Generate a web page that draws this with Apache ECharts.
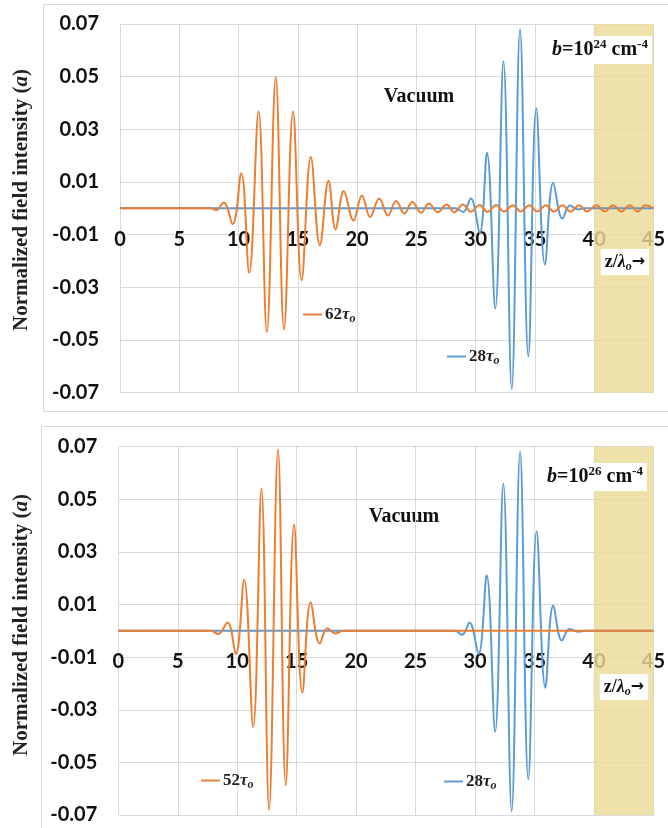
<!DOCTYPE html>
<html><head><meta charset="utf-8">
<script src="https://cdn.jsdelivr.net/npm/echarts@6/dist/echarts.min.js"></script>
<style>html,body{margin:0;padding:0;background:#fff}#c{width:668px;height:828px}</style>
</head><body><div id="c"></div>
<script>
// ---- axis settings ----
const xMin = 0, xMax = 45, xStep = 5;
const yMin = -0.07, yMax = 0.07, yStep = 0.02;
const shadeFrom = 40, shadeTo = 45;

// ---- top panel: b = 10^24 cm^-4 ----
const topOrangeName = '62τo';
const topOrangeX = [0, 7.7, 8.1, 8.75, 9.5, 10.23, 10.9, 11.69, 12.39, 13.14, 13.84, 14.6, 15.32, 16.1, 16.86, 17.59, 18.18, 18.88, 19.7, 20.41, 21.1, 21.87, 22.6, 23.3, 24.0, 24.66, 25.4, 26.06, 26.8, 27.55, 28.2, 28.94, 29.6, 30.34, 31.0, 31.74, 32.4, 33.14, 33.8, 34.54, 35.2, 35.93, 36.6, 37.33, 38.0, 38.73, 39.4, 40.2, 40.9, 41.6, 42.3, 43.0, 43.7, 44.3, 45];
const topOrangeY = [0, 0, -0.0007, 0.0022, -0.006, 0.0133, -0.0245, 0.0368, -0.047, 0.0499, -0.046, 0.0368, -0.0273, 0.0195, -0.014, 0.0105, -0.008, 0.0066, -0.0046, 0.0049, -0.0033, 0.0037, -0.0027, 0.0028, -0.002, 0.0024, -0.0017, 0.0018, -0.0015, 0.0015, -0.0015, 0.0015, -0.0013, 0.0013, -0.0013, 0.0013, -0.0012, 0.0012, -0.0012, 0.0012, -0.0012, 0.0012, -0.0012, 0.0012, -0.0012, 0.0012, -0.0012, 0.0012, -0.0012, 0.0012, -0.0012, 0.0012, -0.0012, 0.0012, 0];

const topBlueName = '28τo';
const topBlueX = [0, 28.3, 28.94, 29.59, 30.34, 30.96, 31.66, 32.35, 33.05, 33.75, 34.45, 35.12, 35.85, 36.55, 37.33, 37.95, 38.6, 39.2, 45];
const topBlueY = [0, 0, -0.0014, 0.0037, -0.0094, 0.0211, -0.038, 0.0559, -0.0685, 0.068, -0.0562, 0.038, -0.0213, 0.0097, -0.0039, 0.0011, -0.0004, 0, 0];

// ---- bottom panel: b = 10^26 cm^-4 ----
const botOrangeName = '52τo';
const botOrangeX = [0, 7.8, 8.4, 9.18, 9.88, 10.58, 11.34, 12.04, 12.68, 13.43, 14.08, 14.78, 15.48, 16.18, 16.94, 17.58, 18.28, 18.9, 45];
const botOrangeY = [0, 0, -0.0012, 0.0032, -0.0088, 0.0194, -0.0366, 0.0541, -0.068, 0.069, -0.0587, 0.0404, -0.0235, 0.0109, -0.0048, 0.001, -0.001, 0, 0];

const botBlueName = '28τo';
const botBlueX = [0, 28.3, 28.92, 29.53, 30.29, 30.98, 31.69, 32.38, 33.08, 33.79, 34.48, 35.18, 35.91, 36.58, 37.31, 37.93, 38.66, 39.3, 45];
const botBlueY = [0, 0, -0.0015, 0.0032, -0.0088, 0.0211, -0.0384, 0.056, -0.0686, 0.0681, -0.0565, 0.0379, -0.0216, 0.0096, -0.0037, 0.0007, -0.0003, 0, 0];

const ORANGE = '#ED7D31', BLUE = '#5B9BD5', GRID = '#d9d9d9';
const SERIF = '"Liberation Serif", "Times New Roman", serif';
const SANS = 'Lato, "Open Sans", sans-serif';

const grids = [
  { left: 120, top: 24, width: 536.5, height: 368.7 },
  { left: 118.3, top: 446.7, width: 536, height: 368.3 }
];

function zip(xs, ys) { return xs.map((x, i) => [x, ys[i]]); }

function xAxisFor(gi) {
  // labels sit just below the zero line (axis itself kept at the bottom edge)
  const labelMargin = -grids[gi].height * (0 - yMin) / (yMax - yMin) + 21;
  return {
    type: 'value', gridIndex: gi, min: xMin, max: xMax, interval: xStep,
    axisLine: { show: false, onZero: false },
    axisTick: { show: false },
    axisLabel: { fontFamily: SANS, fontWeight: 'bold', fontSize: 20, color: '#111', margin: labelMargin },
    splitLine: { show: true, lineStyle: { color: GRID, width: 1 } }
  };
}
function yAxisFor(gi) {
  return {
    type: 'value', gridIndex: gi, min: yMin, max: yMax, interval: yStep,
    axisLine: { show: false }, axisTick: { show: false },
    axisLabel: { fontFamily: SANS, fontWeight: 'bold', fontSize: 20, color: '#111', margin: 21,
      formatter: v => v.toFixed(2) },
    splitLine: { show: true, lineStyle: { color: GRID, width: 1 } }
  };
}
function lineSeries(name, gi, xs, ys, color) {
  return {
    type: 'line', name: name, xAxisIndex: gi, yAxisIndex: gi,
    data: zip(xs, ys), symbol: 'none', smooth: 0.4, z: 3,
    lineStyle: { color: color, width: 2 }, itemStyle: { color: color },
    silent: true
  };
}
function shadeSeries(gi) {
  return {
    type: 'line', name: 'shade' + gi, xAxisIndex: gi, yAxisIndex: gi, data: [], z: 1, silent: true,
    markArea: { silent: true, itemStyle: { color: 'rgba(234,218,151,0.82)' },
      data: [[{ xAxis: shadeFrom }, { xAxis: shadeTo }]] }
  };
}

const legRich = {
  n: { fontFamily: SERIF, fontWeight: 'bold', fontSize: 17, color: '#222', lineHeight: 20 },
  t: { fontFamily: SERIF, fontWeight: 'bold', fontStyle: 'italic', fontSize: 17, color: '#222', lineHeight: 20 },
  s: { fontFamily: SERIF, fontWeight: 'bold', fontStyle: 'italic', fontSize: 12, color: '#222', verticalAlign: 'bottom', lineHeight: 16 }
};
function legendFor(name, left, cy) {
  return {
    data: [name], left: left, top: cy - 10, padding: 0, itemWidth: 19, itemHeight: 14, itemGap: 4,
    selectedMode: false,
    icon: 'path://M0,0 L20,0 L20,2 L0,2 Z',
    formatter: n => '{n|' + n.replace('τo', '') + '}{t|τ}{s|o}',
    textStyle: { rich: legRich, padding: [0, 0, 0, -2] }
  };
}

const titleRich = { i: { fontFamily: SERIF, fontWeight: 'bold', fontStyle: 'italic', fontSize: 21, fill: '#222' } };
function yTitle(cx, cy) {
  return { type: 'text', x: cx, y: cy, rotation: Math.PI / 2, silent: true,
    style: { text: 'Normalized field intensity ({i|a})', fontFamily: SERIF, fontWeight: 'bold', fontSize: 21,
      fill: '#222', align: 'center', verticalAlign: 'middle', rich: titleRich } };
}
function plainText(txt, cx, cy) {
  return { type: 'text', x: cx, y: cy, silent: true,
    style: { text: txt, fontFamily: SERIF, fontWeight: 'bold', fontSize: 20, fill: '#111',
      align: 'center', verticalAlign: 'middle' } };
}
const bRich = {
  bi: { fontFamily: SERIF, fontWeight: 'bold', fontStyle: 'italic', fontSize: 20, lineHeight: 24, fill: '#111' },
  n: { fontFamily: SERIF, fontWeight: 'bold', fontSize: 20, lineHeight: 24, fill: '#111' },
  sup: { fontFamily: SERIF, fontWeight: 'bold', fontSize: 13, lineHeight: 14, verticalAlign: 'top', fill: '#111' }
};
function bText(exp, cx, cy) {
  return { type: 'text', x: cx, y: cy, silent: true, z: 10,
    style: { text: '{bi|b}{n|=10}{sup|' + exp + '}{n| cm}{sup|-4}', rich: bRich,
      align: 'center', verticalAlign: 'middle', backgroundColor: '#fff', padding: [2, 4, 2, 4] } };
}
const zRich = {
  n: { fontFamily: SERIF, fontWeight: 'bold', fontSize: 18, lineHeight: 22, fill: '#111' },
  li: { fontFamily: SERIF, fontWeight: 'bold', fontStyle: 'italic', fontSize: 18, lineHeight: 22, fill: '#111' },
  sub: { fontFamily: SERIF, fontWeight: 'bold', fontStyle: 'italic', fontSize: 12, lineHeight: 14, verticalAlign: 'bottom', fill: '#111' },
  ar: { fontFamily: '"DejaVu Sans", sans-serif', fontWeight: 'bold', fontSize: 16, lineHeight: 22, fill: '#111' }
};
function zText(cx, cy) {
  return { type: 'text', x: cx, y: cy, silent: true, z: 10,
    style: { text: '{n|z/}{li|λ}{sub|o}{ar|→}', rich: zRich,
      align: 'center', verticalAlign: 'middle', backgroundColor: '#fff', padding: [2, 4, 2, 4] } };
}

const option = {
  animation: false,
  backgroundColor: '#fff',
  grid: grids,
  xAxis: [xAxisFor(0), xAxisFor(1)],
  yAxis: [yAxisFor(0), yAxisFor(1)],
  legend: [
    legendFor(topOrangeName, 303, 316),
    legendFor(topBlueName, 447, 358),
    legendFor(botOrangeName, 201, 782),
    legendFor(botBlueName, 444, 783)
  ],
  series: [
    shadeSeries(0), shadeSeries(1),
    lineSeries(topBlueName, 0, topBlueX, topBlueY, BLUE),
    lineSeries(topOrangeName, 0, topOrangeX, topOrangeY, ORANGE),
    lineSeries(botBlueName, 1, botBlueX, botBlueY, BLUE),
    lineSeries(botOrangeName, 1, botOrangeX, botOrangeY, ORANGE)
  ],
  graphic: [
    { type: 'rect', silent: true, z: -1, shape: { x: 43.5, y: 4.5, width: 640, height: 407 },
      style: { fill: 'none', stroke: GRID, lineWidth: 1 } },
    { type: 'rect', silent: true, z: -1, shape: { x: 41.5, y: 426.5, width: 640, height: 420 },
      style: { fill: 'none', stroke: GRID, lineWidth: 1 } },
    yTitle(22, 200), yTitle(22, 625),
    plainText('Vacuum', 419, 97), plainText('Vacuum', 404, 517),
    bText('24', 600, 50), bText('26', 595, 477),
    zText(625, 262), zText(624, 687)
  ]
};
echarts.init(document.getElementById('c'), null, { renderer: 'canvas' }).setOption(option);
</script></body></html>
